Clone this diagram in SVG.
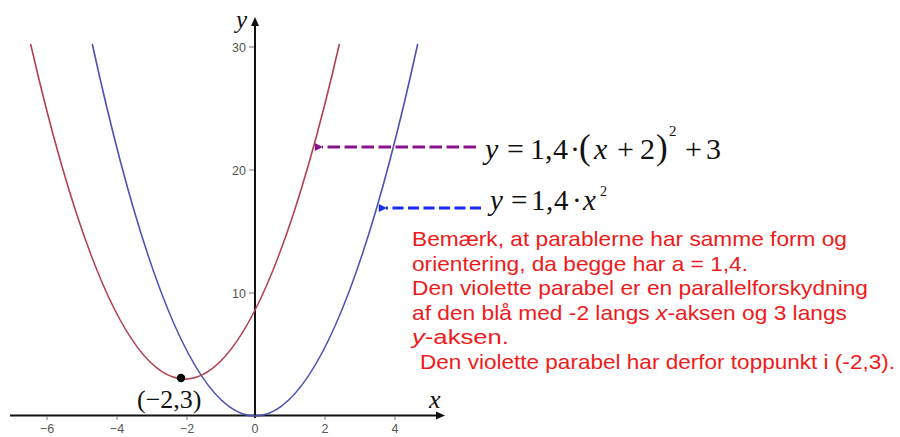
<svg xmlns="http://www.w3.org/2000/svg" width="900" height="437" viewBox="0 0 900 437">
<style>
.axis{stroke:#111;stroke-width:2;fill:none}
.tick{stroke:#777;stroke-width:1}
.tl{font-family:"Liberation Sans",Arial,sans-serif;font-size:12.5px;fill:#555}
.math{font-family:"Liberation Serif","Times New Roman",serif;fill:#111}
.it{font-style:italic}
.note{font-family:"Liberation Sans",Arial,sans-serif;font-size:21px;fill:#f01a1a}
.curve{fill:none;stroke-width:1.6}
</style>
<defs>
<marker id="ap" viewBox="0 0 10 10" refX="1" refY="5" markerWidth="10" markerHeight="8" orient="auto-start-reverse" markerUnits="userSpaceOnUse">
<path d="M0,5 L10,0 L10,10 z" fill="#8a128a"/>
</marker>
<marker id="ab" viewBox="0 0 10 10" refX="1" refY="5" markerWidth="10" markerHeight="8" orient="auto-start-reverse" markerUnits="userSpaceOnUse">
<path d="M0,5 L10,0 L10,10 z" fill="#1a2cf0"/>
</marker>
</defs>
<rect width="900" height="437" fill="#fff"/>
<g id="axes">
<line class="axis" x1="10" y1="415.5" x2="440" y2="415.5"/>
<path d="M445,415.5 L436,411.5 L436,419.5 z" fill="#111"/>
<line class="axis" x1="255" y1="418" x2="255" y2="24"/>
<path d="M255,17 L251,26 L259,26 z" fill="#111"/>
<g class="tick">
<line x1="47" y1="416" x2="47" y2="420"/>
<line x1="117" y1="416" x2="117" y2="420"/>
<line x1="187" y1="416" x2="187" y2="420"/>
<line x1="325" y1="416" x2="325" y2="420"/>
<line x1="395" y1="416" x2="395" y2="420"/>
<line x1="249" y1="293" x2="254" y2="293"/>
<line x1="249" y1="170" x2="254" y2="170"/>
<line x1="249" y1="47" x2="254" y2="47"/>
</g>
<text class="tl" x="47" y="433" text-anchor="middle">−6</text>
<text class="tl" x="117" y="433" text-anchor="middle">−4</text>
<text class="tl" x="187" y="433" text-anchor="middle">−2</text>
<text class="tl" x="255" y="433" text-anchor="middle">0</text>
<text class="tl" x="325" y="433" text-anchor="middle">2</text>
<text class="tl" x="395" y="433" text-anchor="middle">4</text>
<text class="tl" x="246" y="297.5" text-anchor="end">10</text>
<text class="tl" x="246" y="174.5" text-anchor="end">20</text>
<text class="tl" x="246" y="51.5" text-anchor="end">30</text>
<text class="math it" x="236" y="28" font-size="25">y</text>
<text class="math it" x="429" y="408" font-size="26">x</text>
</g>
<g id="blue-parabola">
<path class="curve" stroke="#4a52b4" d="M92.3,44 Q255,788 417.7,44"/>
</g>
<g id="red-parabola">
<path class="curve" stroke="#b2404f" d="M30.6,44 Q185,714.2 339.4,44"/>
</g>
<g id="vertex">
<circle cx="181" cy="378" r="4.2" fill="#000"/>
<text class="math" x="137" y="408" font-size="26">(−2,3)</text>
</g>
<g id="connectors">
<line x1="476" y1="147" x2="322" y2="147" stroke="#8a128a" stroke-width="3" stroke-dasharray="12.5,4.5" marker-end="url(#ap)"/>
<line x1="481" y1="208" x2="386" y2="208" stroke="#1a2cf0" stroke-width="3" stroke-dasharray="11,4.5" marker-end="url(#ab)"/>
</g>
<g id="eq-red">
<text class="math" y="159" font-size="30"><tspan class="it" x="485">y</tspan><tspan x="507">=</tspan><tspan x="530">1</tspan><tspan x="545">,</tspan><tspan x="553">4</tspan><tspan x="570">·</tspan><tspan x="579" font-size="35">(</tspan><tspan class="it" x="594">x</tspan><tspan x="617">+</tspan><tspan x="640">2</tspan><tspan x="656" font-size="35">)</tspan><tspan x="669" y="136" font-size="15">2</tspan><tspan x="685" y="159">+</tspan><tspan x="706">3</tspan></text>
</g>
<g id="eq-blue">
<text class="math" y="210" font-size="29"><tspan class="it" x="490">y</tspan><tspan x="511">=</tspan><tspan x="531">1</tspan><tspan x="546">,</tspan><tspan x="554">4</tspan><tspan x="572">·</tspan><tspan class="it" x="583">x</tspan><tspan x="600" y="196" font-size="14">2</tspan></text>
</g>
<g id="note">
<text class="note" x="412" y="246" textLength="435" lengthAdjust="spacingAndGlyphs">Bemærk, at parablerne har samme form og</text>
<text class="note" x="412" y="270.5" textLength="336" lengthAdjust="spacingAndGlyphs">orientering, da begge har a = 1,4.</text>
<text class="note" x="412" y="295" textLength="456" lengthAdjust="spacingAndGlyphs">Den violette parabel er en parallelforskydning</text>
<text class="note" x="412" y="319.5" textLength="435" lengthAdjust="spacingAndGlyphs">af den blå med -2 langs <tspan font-style="italic">x</tspan>-aksen og 3 langs</text>
<text class="note" x="412" y="344" textLength="97" lengthAdjust="spacingAndGlyphs"><tspan font-style="italic">y</tspan>-aksen.</text>
<text class="note" x="420" y="368.5" textLength="475" lengthAdjust="spacingAndGlyphs">Den violette parabel har derfor toppunkt i (-2,3).</text>
</g>
</svg>
